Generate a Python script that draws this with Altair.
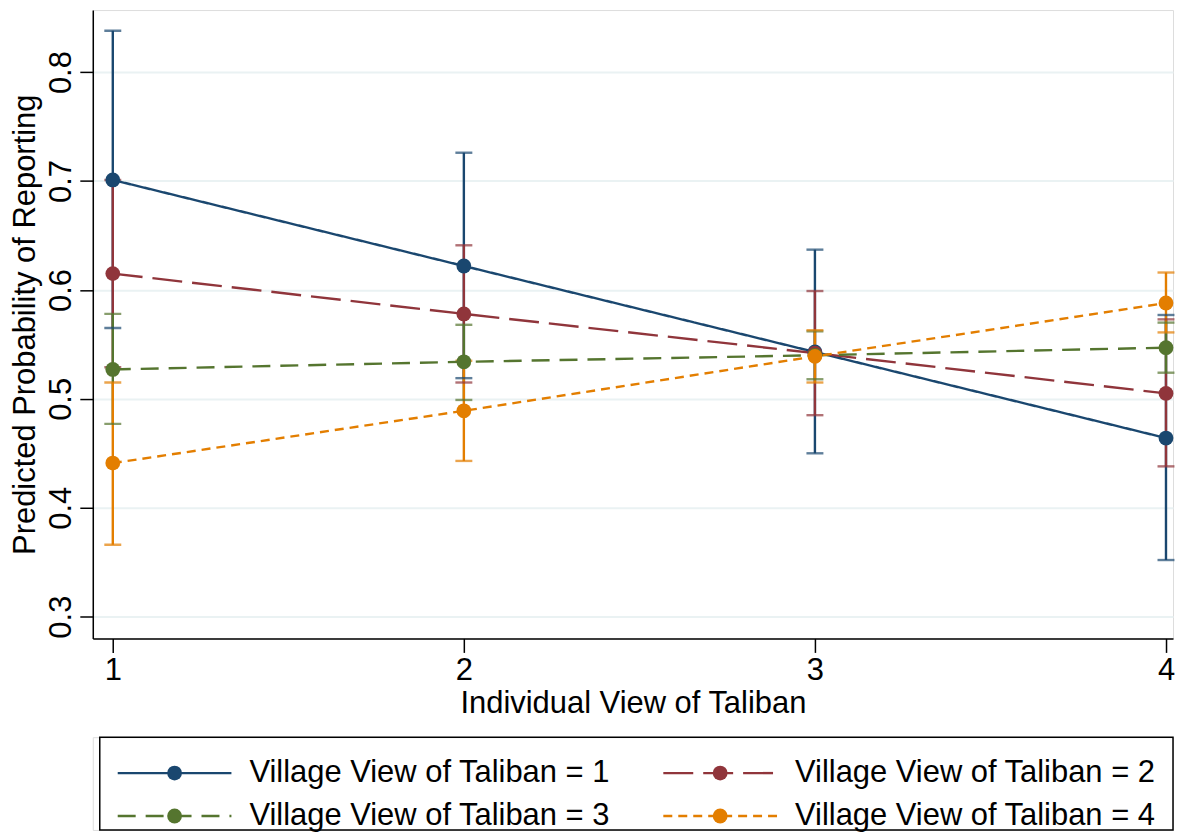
import altair as alt
import pandas as pd

# ---- data ----
views = [1, 2, 3, 4]
series_names = ["Village View of Taliban = 1", "Village View of Taliban = 2",
                "Village View of Taliban = 3", "Village View of Taliban = 4"]
est_1 = [0.701, 0.622, 0.543, 0.464]
lo_1 = [0.565, 0.519, 0.450, 0.352]
hi_1 = [0.838, 0.726, 0.637, 0.577]
est_2 = [0.615, 0.578, 0.542, 0.505]
lo_2 = [0.529, 0.515, 0.485, 0.438]
hi_2 = [0.701, 0.641, 0.599, 0.573]
est_3 = [0.527, 0.534, 0.540, 0.547]
lo_3 = [0.477, 0.499, 0.518, 0.524]
hi_3 = [0.578, 0.568, 0.562, 0.570]
est_4 = [0.441, 0.489, 0.539, 0.588]
lo_4 = [0.366, 0.443, 0.515, 0.561]
hi_4 = [0.515, 0.535, 0.563, 0.616]
y_ticks = [0.3, 0.4, 0.5, 0.6, 0.7, 0.8]

colors = ["#1a476f", "#90353b", "#55752f", "#e37e00"]
dashes = [[1, 0], [30, 10], [18, 10], [9, 6]]
FONT = "Liberation Sans"
FS = 31
LW = 2.4

rows = []
for i, (e, lo, hi) in enumerate([(est_1, lo_1, hi_1), (est_2, lo_2, hi_2),
                                  (est_3, lo_3, hi_3), (est_4, lo_4, hi_4)]):
    for j, xv in enumerate(views):
        rows.append({"series": series_names[i], "order": i, "view": xv,
                     "est": e[j], "lo": lo[j], "hi": hi[j]})
df = pd.DataFrame(rows)

color = alt.Color("series:N", scale=alt.Scale(domain=series_names, range=colors), legend=None)
dash = alt.StrokeDash("series:N", scale=alt.Scale(domain=series_names, range=dashes), legend=None)

xscale = alt.Scale(domain=[0.943, 4.02], nice=False, zero=False)
yscale = alt.Scale(domain=[0.28, 0.857], nice=False, zero=False)

xenc = alt.X("view:Q", scale=xscale,
             axis=alt.Axis(values=views, format="d", title="Individual View of Taliban",
                           grid=False, tickSize=14, tickWidth=1.5, tickColor="black",
                           domainColor="black", domainWidth=1.5,
                           labelFontSize=FS, labelPadding=3, labelColor="black",
                           labelFont=FONT, titleFont=FONT, titleFontSize=FS,
                           titleFontWeight="normal", titlePadding=3, titleColor="black"))
yaxis = alt.Axis(values=y_ticks, format=".1f", title="Predicted Probability of Reporting",
                 grid=True, gridColor="#eaf2f3", gridWidth=2,
                 tickSize=13, tickWidth=1.5, tickColor="black",
                 domainColor="black", domainWidth=1.5,
                 labelAngle=270, labelAlign="center", labelBaseline="bottom",
                 labelFontSize=FS, labelPadding=2, labelColor="black", labelFont=FONT,
                 titleFont=FONT, titleFontSize=FS, titleFontWeight="normal",
                 titlePadding=4, titleColor="black")

base = alt.Chart(df)
bars = base.mark_rule(strokeWidth=LW).encode(
    x=xenc, y=alt.Y("lo:Q", scale=yscale, axis=yaxis), y2="hi:Q", color=color,
    order=alt.Order("order:Q"))
cap_lo = base.mark_tick(orient="horizontal", size=17, thickness=LW).encode(
    x="view:Q", y="lo:Q", color=color)
cap_hi = base.mark_tick(orient="horizontal", size=17, thickness=LW).encode(
    x="view:Q", y="hi:Q", color=color)
lines = base.mark_line(strokeWidth=LW).encode(
    x="view:Q", y="est:Q", color=color, strokeDash=dash, detail="series:N")
points = base.mark_point(filled=True, size=220, opacity=1).encode(
    x="view:Q", y="est:Q", color=color)

main = alt.layer(bars, cap_lo, cap_hi, lines, points).properties(width=1083, height=630)

# ---- custom legend ----
leg = pd.DataFrame({"series": series_names, "col": [0, 1, 0, 1], "row": [0, 0, 1, 1]})
lbase = alt.Chart(leg).transform_calculate(
    lx1="25 + datum.col * 547", lx2="139 + datum.col * 547",
    cx="82 + datum.col * 547", tx="157 + datum.col * 547",
    ly="36 + datum.row * 43")
box = alt.Chart(pd.DataFrame({"a": [0]})).mark_rect(filled=False, stroke="black", strokeWidth=1.5).encode(
    x=alt.value(7), x2=alt.value(1083), y=alt.value(0), y2=alt.value(93))
llines = lbase.mark_rule(strokeWidth=LW).encode(
    x=alt.X("lx1:Q", scale=None), x2="lx2:Q", y=alt.Y("ly:Q", scale=None),
    color=color, strokeDash=dash)
lpoints = lbase.mark_point(filled=True, size=220, opacity=1).encode(
    x=alt.X("cx:Q", scale=None), y=alt.Y("ly:Q", scale=None), color=color)
ltext = lbase.mark_text(align="left", baseline="middle", fontSize=FS, font=FONT, color="black").encode(
    x=alt.X("tx:Q", scale=None), y=alt.Y("ly:Q", scale=None), text="series:N")
legend = alt.layer(box, llines, lpoints, ltext).properties(width=1083, height=93)

chart = alt.vconcat(main, legend, spacing=16).properties(
    padding={"left": 1, "top": 0, "right": 0, "bottom": 0}
).configure_view(stroke=None).configure(background="white")

chart.save("out.html", embed_options={"renderer": "svg", "actions": False})
